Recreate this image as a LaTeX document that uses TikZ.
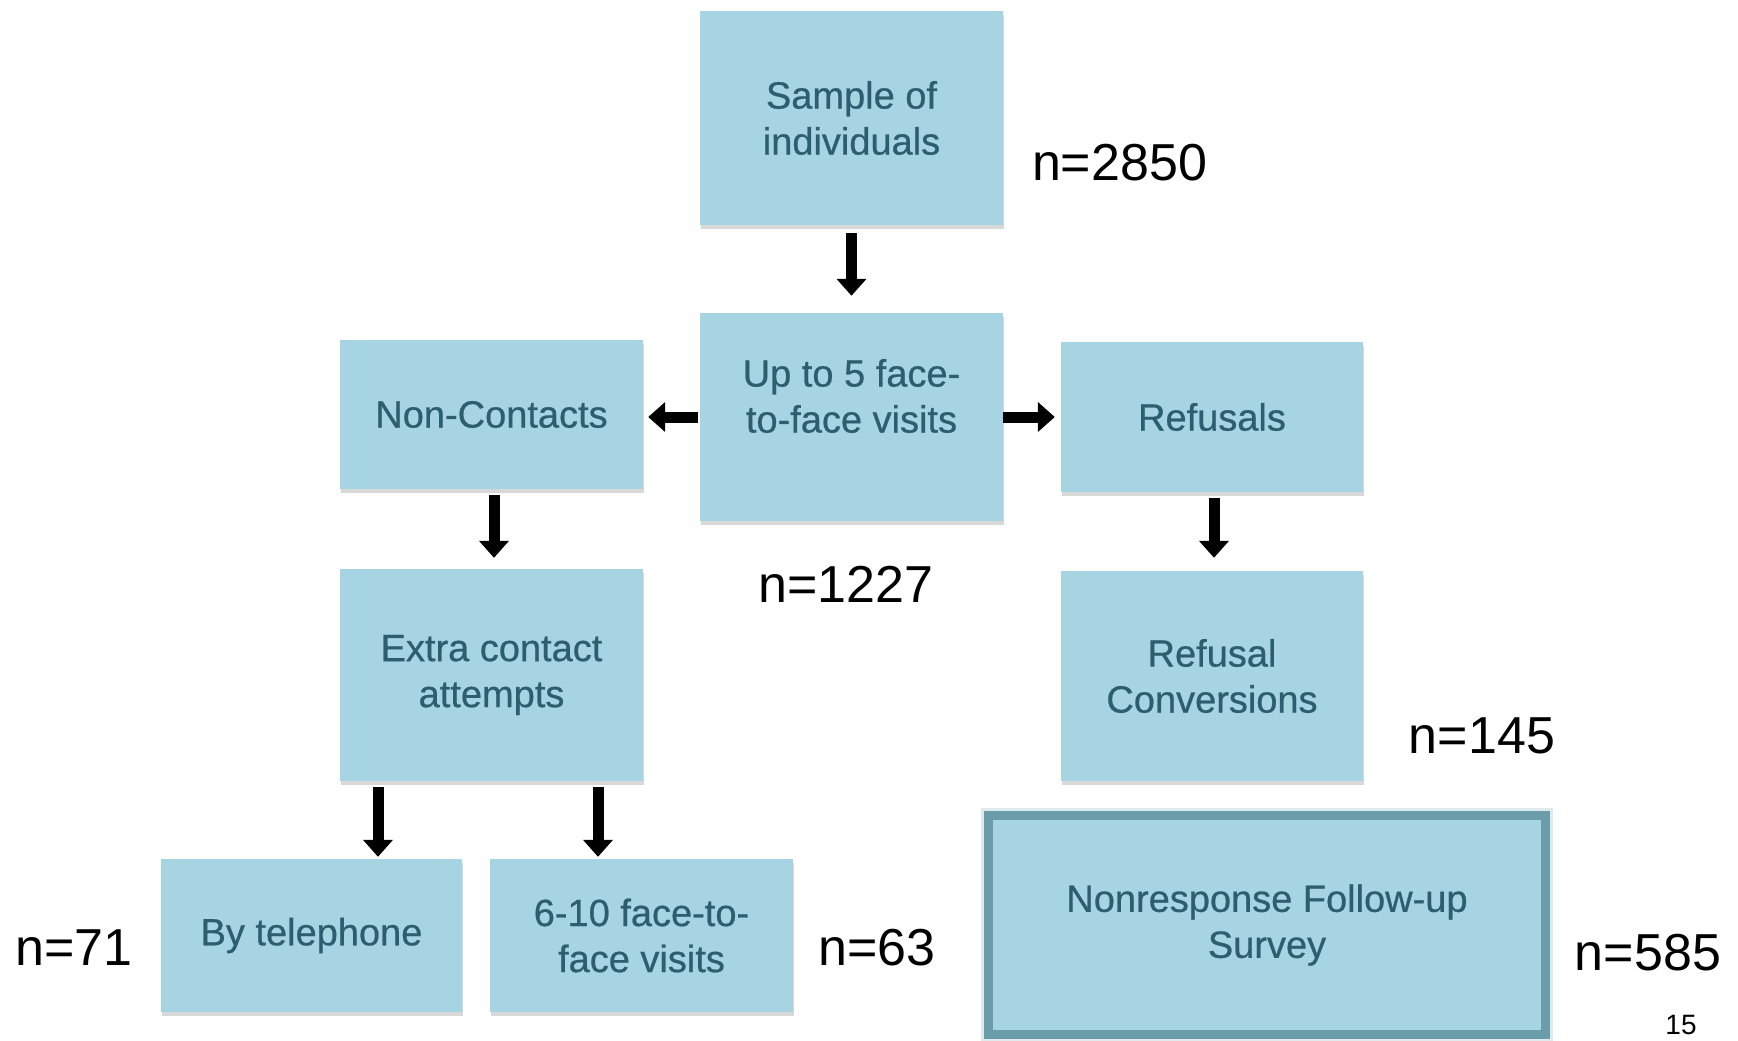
\documentclass[tikz,border=0pt]{standalone}
\usepackage{fontspec}
\setmainfont{Liberation Sans}
\newfontfamily\boxfont[FakeBold=0.6]{Liberation Sans}
\usetikzlibrary{arrows.meta,shadows}
\definecolor{boxfill}{HTML}{A6D4E3}
\definecolor{boxtext}{HTML}{2D5E6D}
\definecolor{boxedge}{HTML}{6A9CAA}
\begin{document}
\begin{tikzpicture}[x=1pt,y=-1pt,
  box/.style={fill=boxfill, draw=none, minimum width=303pt, text=boxtext,
    font=\boxfont\fontsize{38}{46}\selectfont, align=center, inner sep=0pt,
    drop shadow={shadow xshift=1pt, shadow yshift=-4pt, opacity=0.25, fill=black!60}},
  boxlbl/.style={text=boxtext, font=\boxfont\fontsize{38}{46}\selectfont, align=center, inner sep=0pt},
  cnt/.style={font=\fontsize{52}{60}\selectfont, inner sep=0pt},
  blk/.style={line width=11pt, -{Triangle[width=29pt,length=17pt]}}]
\useasboundingbox (0,0) rectangle (1738,1041);
\fill[white] (0,0) rectangle (1738,1041);

\node[box, minimum height=214pt] (s) at (851.5,118) {Sample of\\individuals};
\node[box, minimum height=208pt] (u) at (851.5,417) {};
\node[boxlbl] (ut) at ([yshift=21pt]u.center) {Up to 5 face-\\to-face visits};
\node[box, minimum height=149pt] (nc) at (491.5,414.5) {Non-Contacts};
\node[box, minimum height=150pt, minimum width=302pt] (rf) at (1212,417) {Refusals};
\node[box, minimum height=212pt] (ex) at (491.5,675) {Extra contact\\attempts};
\node[box, minimum height=210pt, minimum width=302pt] (rc) at (1212,676) {Refusal\\Conversions};
\node[box, minimum height=153pt, minimum width=301pt] (tel) at (311.5,935.5) {By telephone};
\node[box, minimum height=153pt] (f10) at (641.5,935.5) {6-10 face-to-\\face visits};
\draw[boxedge!60, line width=15pt, opacity=0.35] (988.5,815.5) rectangle (1545.5,1034.5);
\node[box, draw=boxedge, line width=9pt, minimum width=557pt, minimum height=219pt] (nr) at (1267,925) {Nonresponse Follow-up\\Survey};

\node[cnt] (n1) at (1119.5,163) {n=2850};
\node[cnt] (n2) at (845.7,584) {n=1227};
\node[cnt] (n3) at (1482,736) {n=145};
\node[cnt] (n4) at (74,948) {n=71};
\node[cnt] (n5) at (877,948) {n=63};
\node[cnt] (n6) at (1648,953) {n=585};
\node[font=\fontsize{28}{32}\selectfont, inner sep=0pt] (pg) at (1681,1025) {15};

\draw[blk] ([yshift=-8pt]s.south) -- ([yshift=17pt]u.north);
\draw[blk] ([xshift=-2pt]u.west) -- ([xshift=5pt]u.west -| nc.east);
\draw[blk] (u.east) -- ([xshift=-6pt]u.east -| rf.west);
\draw[blk] ([xshift=2.5pt,yshift=-6pt]nc.south) -- ([xshift=2.5pt,yshift=11pt]ex.north);
\draw[blk] ([xshift=2pt,yshift=-6pt]rf.south) -- ([xshift=2pt,yshift=13pt]rc.north);
\draw[blk, shorten >=8pt] ([xshift=-113.5pt,yshift=-6pt]ex.south) -- ([xshift=-113.5pt,yshift=-6pt]ex.south |- tel.north);
\draw[blk, shorten >=8pt] ([xshift=106.5pt,yshift=-6pt]ex.south) -- ([xshift=106.5pt,yshift=-6pt]ex.south |- f10.north);
\end{tikzpicture}
\end{document}
